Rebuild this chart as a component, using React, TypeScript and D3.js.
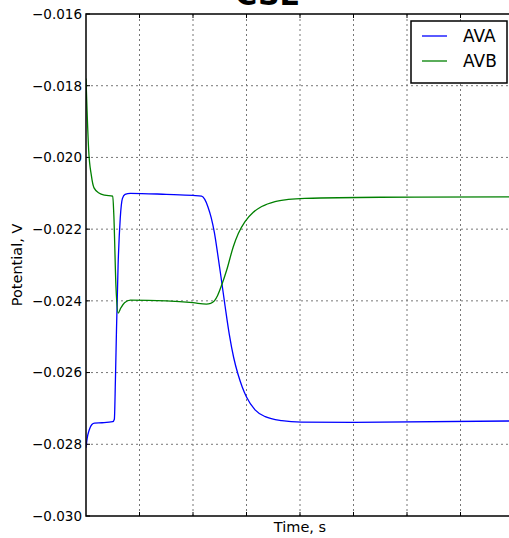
import React from 'react';
import * as d3 from 'd3';

// time in grid units (one dotted grid column = 1)
const timeA = [0, 0.02, 0.06, 0.11, 0.16, 0.3, 0.5, 0.53, 0.55, 0.57, 0.6, 0.64, 0.68, 0.73, 0.83, 1.5, 2.0, 2.16, 2.22, 2.28, 2.34, 2.4, 2.46, 2.52, 2.6, 2.68, 2.76, 2.84, 2.92, 3.0, 3.16, 3.35, 3.66, 4.03, 5.0, 8.0];
const ava = [-0.0281, -0.02785, -0.0276, -0.02745, -0.02741, -0.0274, -0.02737, -0.0273, -0.0262, -0.0248, -0.0230, -0.0217, -0.02115, -0.02103, -0.021, -0.02103, -0.02106, -0.02108, -0.02117, -0.02138, -0.02168, -0.0221, -0.02268, -0.0233, -0.02415, -0.02495, -0.02558, -0.02604, -0.0264, -0.02668, -0.02704, -0.02723, -0.02734, -0.02738, -0.02739, -0.02735];

const timeB = [0, 0.02, 0.05, 0.1, 0.15, 0.25, 0.35, 0.5, 0.52, 0.56, 0.6, 0.65, 0.72, 0.83, 1.5, 2.0, 2.25, 2.33, 2.4, 2.46, 2.536, 2.63, 2.753, 2.847, 2.972, 3.127, 3.284, 3.533, 3.781, 4.093, 5.5, 8.0];
const avb = [-0.0178, -0.0187, -0.0198, -0.0205, -0.02085, -0.021, -0.02105, -0.02108, -0.0216, -0.0236, -0.02434, -0.0242, -0.02405, -0.02398, -0.024, -0.02405, -0.02409, -0.02407, -0.024, -0.02385, -0.02356, -0.02314, -0.02249, -0.02212, -0.02179, -0.02153, -0.02137, -0.02123, -0.02117, -0.02114, -0.02111, -0.0211];

const yTicks = [-0.030, -0.028, -0.026, -0.024, -0.022, -0.020, -0.018, -0.016];
const xGrid = [1, 2, 3, 4, 5, 6, 7];

const W = 509, H = 538;
const L = 86, R = 514, T = 14, B = 516;
const font = 'DejaVu Sans, sans-serif';

export default function App() {
  const x = d3.scaleLinear().domain([0, 8]).range([L, R]);
  const y = d3.scaleLinear().domain([-0.030, -0.016]).range([B, T]);
  const line = d3.line<[number, number]>()
    .x(d => x(d[0]))
    .y(d => y(d[1]))
    .curve(d3.curveMonotoneX);

  const fmt = (v: number) => v.toFixed(3).replace('-', '\u2212');

  return (
    <div style={{ position: 'absolute', left: 0, top: 0 }}>
      <svg width={W} height={H} style={{ display: 'block', background: '#fff' }} fontFamily={font}>
        <defs>
          <clipPath id="plot"><rect x={L} y={T} width={R - L} height={B - T} /></clipPath>
        </defs>
        <text x={267} y={5} textAnchor="middle" fontSize={30} fontWeight="bold">CSL</text>

        {/* grid */}
        {xGrid.map(t => (
          <line key={'gx' + t} x1={x(t)} x2={x(t)} y1={T} y2={B} stroke="#777" strokeWidth={1} strokeDasharray="2,3" />
        ))}
        {yTicks.slice(1, -1).map(v => (
          <line key={'gy' + v} x1={L} x2={R} y1={y(v)} y2={y(v)} stroke="#777" strokeWidth={1} strokeDasharray="2,3" />
        ))}

        {/* ticks (inward) */}
        {xGrid.map(t => (
          <g key={'tx' + t}>
            <line x1={x(t)} x2={x(t)} y1={B} y2={B - 4} stroke="#000" />
            <line x1={x(t)} x2={x(t)} y1={T} y2={T + 4} stroke="#000" />
          </g>
        ))}
        {yTicks.map(v => (
          <g key={'ty' + v}>
            <line x1={L} x2={L + 4} y1={y(v)} y2={y(v)} stroke="#000" />
            <text x={82} y={y(v)} dy="0.36em" textAnchor="end" fontSize={13.5}>{fmt(v)}</text>
          </g>
        ))}

        {/* series */}
        <g clipPath="url(#plot)" fill="none" strokeWidth={1.3}>
          <path d={line(timeA.map((t, i) => [t, ava[i]] as [number, number])) || ''} stroke="#0000ff" />
          <path d={line(timeB.map((t, i) => [t, avb[i]] as [number, number])) || ''} stroke="#008000" />
        </g>

        {/* spines */}
        <rect x={L} y={T} width={R - L} height={B - T} fill="none" stroke="#000" strokeWidth={1.5} />

        {/* legend */}
        <rect x={411} y={21} width={96} height={62} fill="#fff" stroke="#000" strokeWidth={1.5} />
        <line x1={422} x2={447} y1={36} y2={36} stroke="#0000ff" strokeWidth={1.3} />
        <text x={463} y={36} dy="0.36em" fontSize={17}>AVA</text>
        <line x1={422} x2={447} y1={61} y2={61} stroke="#008000" strokeWidth={1.3} />
        <text x={463} y={61} dy="0.36em" fontSize={17}>AVB</text>

        {/* axis labels */}
        <text x={(L + R) / 2} y={532} textAnchor="middle" fontSize={14.5}>Time, s</text>
        <text transform={`translate(22,${(T + B) / 2}) rotate(-90)`} textAnchor="middle" fontSize={14.5}>Potential, V</text>
      </svg>
    </div>
  );
}
